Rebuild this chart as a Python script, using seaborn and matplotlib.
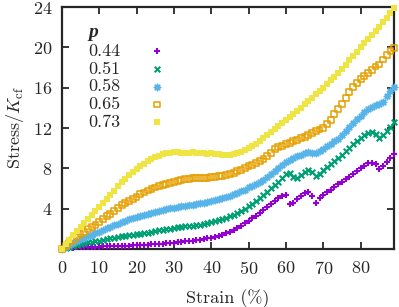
import numpy as np
import pandas as pd
import matplotlib
matplotlib.use("Agg")
import matplotlib.pyplot as plt
import seaborn as sns

# strain (%) sampled every 1 %
strain = list(range(0, 90))

p_044 = [0.0, 0.05, 0.1, 0.12, 0.15, 0.17, 0.2, 0.21, 0.22, 0.23,
         0.24, 0.25, 0.26, 0.27, 0.28, 0.29, 0.3, 0.31, 0.33, 0.35,
         0.37, 0.39, 0.41, 0.43, 0.45, 0.47, 0.5, 0.53, 0.57, 0.6,
         0.64, 0.68, 0.72, 0.76, 0.8, 0.84, 0.88, 0.93, 1.0, 1.05,
         1.1, 1.2, 1.3, 1.42, 1.55, 1.7, 1.9, 2.1, 2.3, 2.55,
         2.8, 3.05, 3.3, 3.55, 3.85, 4.15, 4.45, 4.75, 5.05, 5.25,
         5.35, 4.5, 4.6, 5.0, 5.3, 5.6, 5.7, 5.3, 4.6, 5.1,
         5.4, 5.65, 5.9, 6.15, 6.4, 6.65, 6.9, 7.15, 7.45, 7.75,
         8.0, 8.25, 8.5, 8.55, 8.4, 7.9, 8.2, 8.6, 9.0, 9.4]

p_051 = [0.0, 0.1, 0.2, 0.3, 0.4, 0.5, 0.55, 0.65, 0.7, 0.75,
         0.8, 0.9, 1.0, 1.05, 1.1, 1.15, 1.25, 1.3, 1.35, 1.4,
         1.45, 1.5, 1.55, 1.6, 1.7, 1.75, 1.85, 1.9, 1.95, 2.0,
         2.05, 2.15, 2.2, 2.25, 2.3, 2.3, 2.35, 2.4, 2.5, 2.6,
         2.7, 2.8, 2.9, 3.0, 3.1, 3.25, 3.4, 3.6, 3.8, 4.0,
         4.25, 4.5, 4.8, 5.1, 5.4, 5.7, 6.0, 6.3, 6.6, 7.0,
         7.4, 7.5, 7.1, 7.0, 7.3, 7.6, 7.8, 7.6, 7.2, 7.4,
         7.8, 8.1, 8.4, 8.7, 9.0, 9.3, 9.7, 10.0, 10.4, 10.7,
         11.0, 11.3, 11.5, 11.6, 11.4, 11.0, 11.3, 11.7, 12.1, 12.6]

p_058 = [0.0, 0.2, 0.4, 0.6, 0.8, 0.95, 1.1, 1.25, 1.4, 1.55,
         1.7, 1.85, 2.05, 2.2, 2.35, 2.5, 2.65, 2.8, 2.95, 3.05,
         3.2, 3.3, 3.4, 3.5, 3.6, 3.7, 3.8, 3.85, 3.95, 4.05,
         4.1, 4.15, 4.25, 4.3, 4.35, 4.4, 4.45, 4.55, 4.6, 4.7,
         4.8, 4.9, 5.0, 5.1, 5.2, 5.3, 5.45, 5.6, 5.75, 5.9,
         6.1, 6.25, 6.45, 6.65, 6.85, 7.1, 7.4, 7.7, 8.0, 8.3,
         8.6, 8.85, 9.05, 9.2, 9.35, 9.5, 9.6, 9.55, 9.5, 9.7,
         9.9, 10.2, 10.45, 10.7, 10.95, 11.3, 11.7, 12.1, 12.45, 12.85,
         13.2, 13.6, 13.9, 14.1, 14.3, 14.4, 14.6, 15.2, 15.7, 16.1]

p_065 = [0.0, 0.3, 0.6, 0.9, 1.2, 1.45, 1.7, 1.95, 2.15, 2.4,
         2.7, 3.0, 3.25, 3.5, 3.8, 4.1, 4.35, 4.6, 4.8, 5.0,
         5.2, 5.45, 5.6, 5.8, 5.95, 6.1, 6.25, 6.35, 6.45, 6.55,
         6.65, 6.75, 6.85, 6.9, 6.95, 7.0, 7.0, 7.05, 7.05, 7.05,
         7.1, 7.15, 7.2, 7.25, 7.3, 7.4, 7.55, 7.7, 7.85, 8.0,
         8.2, 8.35, 8.55, 8.75, 8.95, 9.2, 9.5, 9.9, 10.1, 10.25,
         10.4, 10.55, 10.7, 10.85, 11.0, 11.1, 11.3, 11.5, 11.7, 11.85,
         12.0, 12.4, 12.8, 13.4, 13.9, 14.4, 15.0, 15.6, 16.1, 16.5,
         16.9, 17.2, 17.5, 17.8, 18.1, 18.3, 18.8, 19.2, 19.6, 19.9]

p_073 = [0.0, 0.45, 0.9, 1.35, 1.8, 2.2, 2.6, 3.0, 3.4, 3.8,
         4.2, 4.6, 5.0, 5.4, 5.8, 6.2, 6.6, 6.95, 7.3, 7.6,
         7.9, 8.2, 8.45, 8.7, 8.9, 9.1, 9.25, 9.4, 9.5, 9.55,
         9.6, 9.6, 9.55, 9.5, 9.55, 9.6, 9.55, 9.5, 9.5, 9.45,
         9.5, 9.45, 9.4, 9.35, 9.3, 9.3, 9.4, 9.5, 9.6, 9.8,
         10.0, 10.2, 10.45, 10.7, 11.0, 11.3, 11.6, 11.9, 12.2, 12.5,
         12.8, 13.1, 13.4, 13.7, 14.0, 14.35, 14.7, 15.0, 15.35, 15.7,
         16.0, 16.4, 16.8, 17.1, 17.5, 17.9, 18.3, 18.7, 19.1, 19.5,
         20.0, 20.4, 20.8, 21.2, 21.6, 22.0, 22.5, 22.9, 23.4, 23.9]

labels = ["0.44", "0.51", "0.58", "0.65", "0.73"]
series = [p_044, p_051, p_058, p_065, p_073]
colors = ["#9400d3", "#009e73", "#56b4e9", "#e69f00", "#f0e442"]

x_ticks = [0, 10, 20, 30, 40, 50, 60, 70, 80]
y_ticks = [4, 8, 12, 16, 20, 24]

sns.set_style("ticks")
plt.rcParams["font.family"] = ["cmr10"]
plt.rcParams["mathtext.fontset"] = "cm"
plt.rcParams["axes.formatter.use_mathtext"] = True

FS = 13

fig, ax = plt.subplots(figsize=(3.99, 3.07), dpi=100)
fig.subplots_adjust(left=0.155, right=0.987, top=0.977, bottom=0.189)

# marker styles per series (gnuplot-like point types)
styles = [
    dict(marker="+", s=24, linewidths=1.5),
    dict(marker="x", s=16, linewidths=1.5),
    dict(marker=(8, 2, 0), s=20, linewidths=1.1),
    dict(marker="s", s=18, facecolors="none", linewidths=1.1),
    dict(marker="s", s=18, linewidths=0),
]

for lab, vals, col, st in zip(labels, series, colors, styles):
    df = pd.DataFrame({"strain": strain, "stress": vals})
    kw = dict(st)
    if "facecolors" in kw:
        kw.pop("facecolors")
        sns.scatterplot(data=df, x="strain", y="stress", ax=ax, label=lab,
                        facecolor="none", edgecolor=col, clip_on=False,
                        zorder=3, **kw)
    else:
        sns.scatterplot(data=df, x="strain", y="stress", ax=ax, label=lab,
                        color=col, edgecolor=col, clip_on=False,
                        zorder=3, **kw)

ax.set_xlim(0, 88.9)
ax.set_ylim(0, 24)
ax.set_xticks(x_ticks)
ax.set_yticks(y_ticks)
ax.tick_params(direction="in", length=5, width=1.3, top=True, right=True,
               labelsize=FS)
ax.tick_params(axis="x", pad=8)
ax.tick_params(axis="y", pad=7)
for sp in ax.spines.values():
    sp.set_linewidth(1.6)
    sp.set_visible(True)

ax.set_xlabel("Strain (%)", fontsize=FS, labelpad=9)
ax.set_ylabel("Stress/$K_{\\rm cf}$", fontsize=FS, labelpad=5)

leg = ax.legend(title="p", markerfirst=False, frameon=False,
                loc="upper left", bbox_to_anchor=(0.08, 0.93),
                borderaxespad=0, borderpad=0, handlelength=2.4,
                handletextpad=0.8, labelspacing=0.12, fontsize=FS,
                title_fontproperties={"family": "Liberation Serif",
                                      "weight": "bold", "style": "italic",
                                      "size": 14})
leg._legend_box.align = "left"

fig.savefig("out.png", dpi=100)
